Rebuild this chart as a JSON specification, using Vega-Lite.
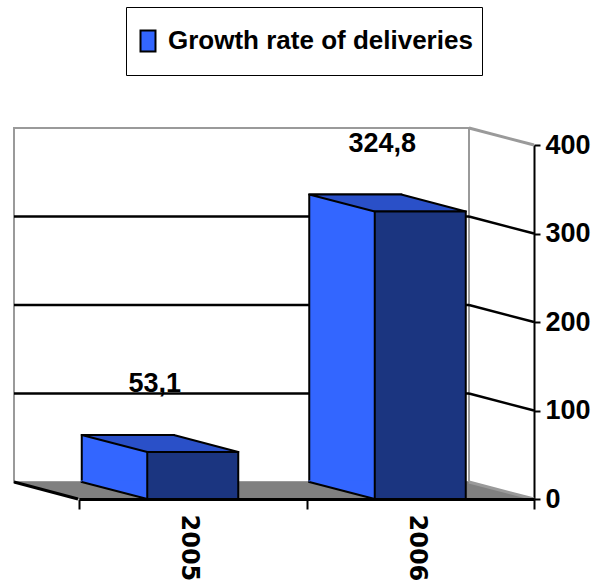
{
  "$schema": "https://vega.github.io/schema/vega-lite/v6.json",
  "width": 455,
  "height": 354,
  "autosize": {"type": "none"},
  "padding": {"left": 14, "top": 128, "right": 125, "bottom": 102},
  "background": "white",
  "config": {
    "view": {"stroke": "#9a9a9a", "strokeWidth": 2},
    "locale": {"number": {"decimal": ",", "thousands": ".", "grouping": [3], "currency": ["", ""]}},
    "font": "Liberation Sans"
  },
  "datasets": {
    "bars": [
      {"year": "2005", "value": 53.1},
      {"year": "2006", "value": 324.8}
    ],
    "grid": [
      {"value": 0}, {"value": 100}, {"value": 200}, {"value": 300}, {"value": 400}
    ]
  },
  "layer": [
    {
      "data": {"name": "grid"},
      "transform": [{"filter": "datum.value == 0"}],
      "mark": {"type": "point", "shape": "M-455,0L0,0L65,17L-391,17Z", "size": 4, "filled": true, "fill": "#808080", "strokeWidth": 0, "opacity": 1},
      "encoding": {
        "x": {"value": "width"},
        "y": {"field": "value", "type": "quantitative", "scale": {"domain": [0, 400], "nice": false},
          "axis": {"orient": "right", "offset": 65, "position": 17, "values": [0, 100, 200, 300, 400], "grid": false, "domain": true, "domainColor": "black", "domainWidth": 2, "ticks": true, "tickColor": "black", "tickWidth": 2, "tickSize": 6, "labelPadding": 5, "labelFont": "Liberation Sans", "labelFontWeight": "bold", "labelFontSize": 27, "labelColor": "black", "title": null, "labelOverlap": false}}
      }
    },
    {
      "data": {"name": "grid"},
      "transform": [{"filter": "datum.value == 0"}],
      "mark": {"type": "point", "shape": "M-455,0L-391,17", "size": 4, "filled": false, "stroke": "black", "strokeWidth": 3, "opacity": 1},
      "encoding": {
        "x": {"value": "width"},
        "y": {"field": "value", "type": "quantitative"}
      }
    },
    {
      "data": {"name": "grid"},
      "transform": [{"filter": "datum.value > 0 && datum.value < 400"}],
      "mark": {"type": "rule", "color": "black", "strokeWidth": 2.5},
      "encoding": {
        "y": {"field": "value", "type": "quantitative"}
      }
    },
    {
      "data": {"name": "grid"},
      "transform": [{"filter": "datum.value > 0 && datum.value < 400"}],
      "mark": {"type": "rule", "color": "black", "strokeWidth": 2.5, "x2Offset": 65, "y2Offset": 17},
      "encoding": {
        "x": {"value": "width"},
        "x2": {"value": "width"},
        "y": {"field": "value", "type": "quantitative"},
        "y2": {"field": "value"}
      }
    },
    {
      "data": {"name": "grid"},
      "transform": [{"filter": "datum.value == 0 || datum.value == 400"}],
      "mark": {"type": "rule", "color": "#9a9a9a", "strokeWidth": 3, "x2Offset": 65, "y2Offset": 17},
      "encoding": {
        "x": {"value": "width"},
        "x2": {"value": "width"},
        "y": {"field": "value", "type": "quantitative"},
        "y2": {"field": "value"}
      }
    },
    {
      "data": {"name": "bars"},
      "mark": {"type": "bar", "width": 92, "stroke": "black", "strokeWidth": 2, "opacity": 1},
      "encoding": {
        "x": {"field": "year", "type": "nominal", "scale": {"paddingInner": 0, "paddingOuter": 0},
          "axis": {"orient": "bottom", "offset": 17, "position": 65, "title": null, "domain": true, "domainColor": "black", "domainWidth": 3, "ticks": true, "tickBand": "extent", "tickColor": "black", "tickWidth": 2, "tickSize": 10, "labelAngle": 90, "labelFont": "DejaVu Sans", "labelFontWeight": "bold", "labelFontSize": 24, "labelColor": "black", "labelPadding": 5, "labelOffset": -4, "zindex": 1, "grid": false}},
        "y": {"field": "value", "type": "quantitative"},
        "color": {"datum": "Growth rate of deliveries", "type": "nominal", "scale": {"range": ["#3366ff"]},
          "legend": {"orient": "none", "legendX": 112, "legendY": -121, "title": null, "labelFont": "Liberation Sans", "labelFontWeight": "bold", "labelFontSize": 26, "labelColor": "black", "symbolType": "M-0.714,-1L0.714,-1L0.714,1L-0.714,1Z", "symbolSize": 441, "symbolStrokeColor": "black", "symbolStrokeWidth": 2, "symbolFillColor": "#3366ff", "symbolOpacity": 1, "strokeColor": "black", "padding": 9, "fillColor": "white", "labelOffset": 7, "clipHeight": 50, "labelLimit": 0}}
      }
    },
    {
      "data": {"name": "bars"},
      "mark": {"type": "point", "shape": "M-112,-18.5L-45.5,-18.5L-45.5,0L-111,-17Z", "size": 4, "filled": true, "fill": "#3366ff", "strokeWidth": 0, "opacity": 1, "xOffset": 65, "yOffset": 17},
      "encoding": {
        "x": {"field": "year", "type": "nominal"},
        "y": {"datum": 0}
      }
    },
    {
      "data": {"name": "bars"},
      "mark": {"type": "point", "shape": "M-111,-17L-45.5,0", "size": 4, "filled": false, "stroke": "black", "strokeWidth": 2, "opacity": 1, "xOffset": 65, "yOffset": 17},
      "encoding": {
        "x": {"field": "year", "type": "nominal"},
        "y": {"datum": 0}
      }
    },
    {
      "data": {"name": "bars"},
      "mark": {"type": "point", "shape": "M-45.5,0L45.5,0L-19,-17L-111,-17Z", "size": 4, "filled": true, "fill": "#2a50c8", "stroke": "black", "strokeWidth": 2, "strokeJoin": "round", "opacity": 1, "xOffset": 65, "yOffset": 17},
      "encoding": {
        "x": {"field": "year", "type": "nominal"},
        "y": {"field": "value", "type": "quantitative"}
      }
    },
    {
      "data": {"name": "bars"},
      "mark": {"type": "bar", "width": 91, "fill": "#1b3580", "stroke": "black", "strokeWidth": 2, "opacity": 1, "xOffset": 65, "x2Offset": 65, "yOffset": 17, "y2Offset": 17},
      "encoding": {
        "x": {"field": "year", "type": "nominal"},
        "y": {"field": "value", "type": "quantitative"}
      }
    },
    {
      "data": {"name": "bars"},
      "mark": {"type": "text", "font": "Liberation Sans", "fontWeight": "bold", "fontSize": 27, "color": "black", "align": "center", "baseline": "alphabetic", "xOffset": 27, "yOffset": -43},
      "encoding": {
        "x": {"field": "year", "type": "nominal"},
        "y": {"field": "value", "type": "quantitative"},
        "text": {"field": "value", "type": "quantitative", "format": ".1f"}
      }
    }
  ]
}
